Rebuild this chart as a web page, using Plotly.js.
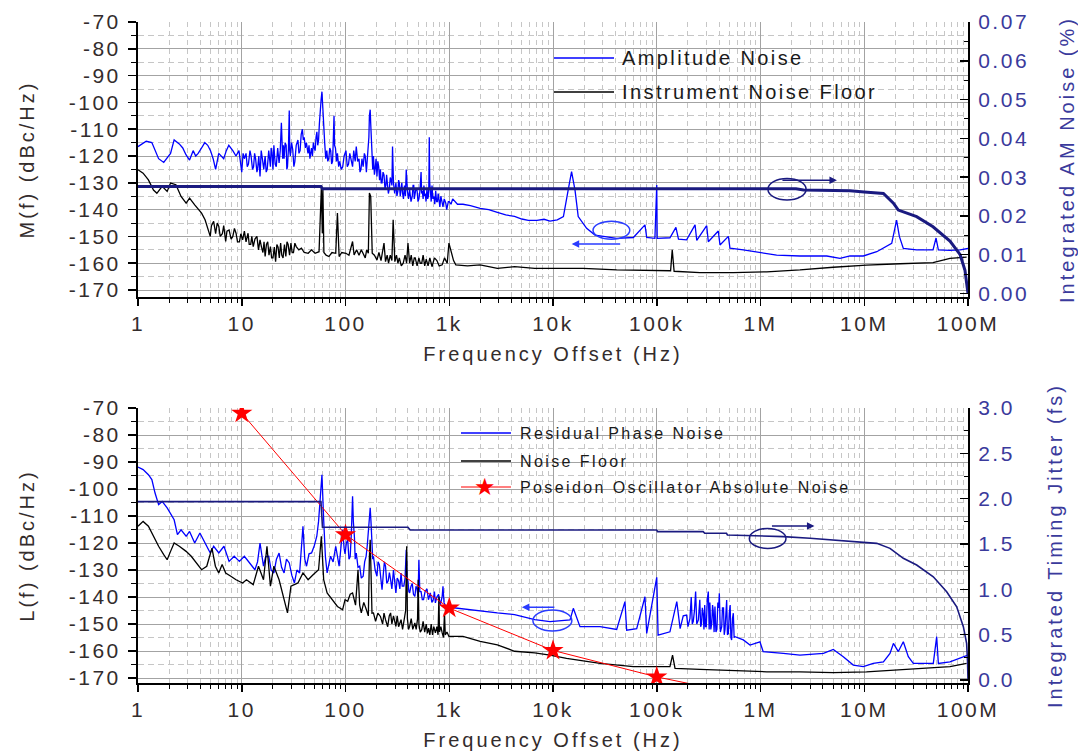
<!DOCTYPE html>
<html>
<head>
<meta charset="utf-8">
<script src="https://cdn.plot.ly/plotly-3.0.1.min.js"></script>
<style>
body{margin:0;background:#fff;}
svg text{letter-spacing:3px;}
g[class$="tick"] text{letter-spacing:2.5px;}
svg text.annotation-text{letter-spacing:2.4px;}
</style>
</head>
<body>
<div id="chart" style="width:1078px;height:755px;"></div>
<script>
// ---------------- data : [frequency offset Hz, value] ----------------
const xTickVals = [1, 10, 100, 1e3, 1e4, 1e5, 1e6, 1e7, 1e8];
const xTickText = ['1', '10', '100', '1k', '10k', '100k', '1M', '10M', '100M'];
const dbTickVals = [-70, -80, -90, -100, -110, -120, -130, -140, -150, -160, -170];
const dbTickText = ['-70', '-80', '-90', '-100', '-110', '-120', '-130', '-140', '-150', '-160', '-170'];

// Top: amplitude noise M(f) (dBc/Hz)
const amNoise = [
[1,-116.5],[1.1,-115.5],[1.2,-114.5],[1.36,-115],[1.5,-119],[1.58,-121],[1.77,-122.4],[1.9,-121],[2.06,-119],[2.23,-114],
[2.5,-115.5],[2.7,-117],[2.9,-119.5],[3.14,-121.5],[3.4,-118],[3.6,-120],[3.8,-119],[4.1,-117],[4.4,-115],[4.7,-116],
[5.0,-118],[5.3,-121],[5.6,-125],[6.0,-119],[6.4,-120],[6.7,-121],[7.1,-118],[7.5,-116],[8.2,-118],[8.8,-120],[9.4,-118],
[10,-126],[10.3,-119],[10.6,-121],[11,-119],[11.3,-124],[11.6,-123],[12,-118],[12.3,-120],[12.7,-125],[13,-124],[13.3,-119],
[13.6,-121],[14,-126],[14.2,-125],[14.6,-120],[15,-127.6],[15.4,-118],[15.8,-121],[16.3,-125],[16.8,-120],[17.2,-126],
[17.6,-125],[18.2,-118],[18.9,-124],[19.2,-117],[19.6,-119],[20,-125],[20.4,-116],[21,-123],[21.5,-124],[22.2,-117],
[22.9,-122.6],[23.5,-118],[24.1,-107.6],[24.5,-120],[24.8,-121],[25.2,-116],[25.6,-121],[26.2,-115],[26.8,-116],[27.2,-125],
[27.6,-124],[28.2,-117],[28.7,-103],[29,-118],[29.4,-120],[30.2,-115],[31,-117.6],[31.8,-124],[32.5,-122],[33.5,-116],
[34.8,-114],[35.6,-119],[36.5,-118],[37.4,-112],[38.4,-110],[39.2,-114],[40,-113],[41,-117],[42,-115],[43.5,-119],[44.5,-116],
[45.4,-121],[46.2,-118],[47,-117],[48,-120],[49,-115],[50,-117],[51,-118],[52,-113],[53,-111],[54,-116],[55,-114],[56,-108],
[57,-102.7],[58.2,-99],[59.3,-96],[60,-100],[60.5,-104],[61.5,-112],[63,-115],[64.5,-121],[66,-118],[67.5,-122],[69,-121],
[70.5,-117],[72,-118],[73.5,-123],[75,-122],[76,-116],[77.5,-105],[78.5,-116],[80,-117],[82,-122],[83.6,-119],[86,-124],
[88,-122],[91,-125],[94,-124],[97,-120],[101,-118],[104,-124],[107,-123],[110,-119],[114,-121.6],[117,-124],[120,-118],
[124,-122],[127,-116.5],[131,-122],[135,-121],[138,-126],[141,-125],[144,-121],[148,-124],[152,-119],[155,-120],[159,-126],
[163,-120],[165,-118],[168,-113],[170,-105],[173,-102.7],[175,-108],[176,-110],[178,-120],[180,-118],[183,-125],[186,-120],
[190,-127],[193,-125],[197,-121],[201,-127.6],[205,-122],[209,-124],[213,-129],[217,-125],[221,-130],[225,-130],[230,-126],
[235,-127],[240,-132],[245,-131],[249,-127],[253,-130],[259,-134],[265,-132],[270,-128],[275,-129],[280,-131],[284,-116.5],
[287,-128],[290,-130],[298,-134],[306,-130],[313,-135],[320,-133],[325,-129],[330,-130],[337,-135],[343,-132.6],[349,-130],
[355,-134],[362,-136],[370,-131],[378,-135],[385,-125],[390,-131],[395,-133],[405,-136],[415,-132.6],[428,-137],[440,-135],
[448,-131],[455,-131],[460,-136],[466,-135],[478,-132],[490,-133],[500,-137],[510,-136],[522,-133],[535,-126],[542,-134],
[550,-133],[560,-136],[570,-131],[578,-135],[586,-134],[598,-137],[610,-132],[620,-136],[630,-135],[636,-131],[642,-113],
[648,-130],[660,-133],[670,-137],[682,-131],[695,-136],[710,-135],[725,-138],[740,-133],[755,-137],[770,-137],[782,-134],
[795,-136],[812,-139],[830,-135],[850,-138],[870,-139],[895,-136],[926,-137.6],[945,-140],[960,-139],[980,-137],[1000,-137],
[1040,-138],[1079,-136],[1200,-138],[1356,-138],[1600,-138.5],[1986,-139.5],[2400,-140],[2909,-141],[3500,-142],[4260,-142.5],
[5000,-143.5],[5780,-144],[7000,-144],[8200,-143.6],[9350,-144.3],[11000,-143.8],[12600,-142.6],[14000,-132.7],[15100,-125.8],
[16300,-132.7],[17500,-142.6],[21100,-147],[25400,-149.5],[30600,-150],[41100,-150.7],[59500,-150.4],[77000,-145.7],
[80000,-150.4],[96000,-150.7],[100000,-130.8],[101000,-150.7],[134000,-150.5],[153000,-146.6],[162000,-151],[194000,-151.3],
[234000,-145.7],[243000,-151.5],[303000,-146],[314000,-152],[392000,-148],[407000,-153.2],[490000,-150],[508000,-154.4],
[683000,-155],[988000,-156],[1430000,-157],[2400000,-157.3],[4350000,-157.3],[5840000,-158.2],[7300000,-157.3],[9800000,-157.3],
[13200000,-155.7],[18400000,-152.6],[20500000,-143.9],[21800000,-150],[23800000,-154.5],[32000000,-155],[46000000,-155],
[49200000,-150.6],[51800000,-155],[67000000,-155.2],[84000000,-155],[100000000,-154.5]];

// Top: instrument noise floor (dBc/Hz)
const amFloor = [
[1,-125.1],[1.12,-126.4],[1.26,-128.9],[1.41,-132.7],[1.52,-133.9],[1.71,-131.3],[1.91,-133.2],[2.06,-130.1],[2.32,-130.7],
[2.6,-135.1],[2.91,-137.6],[3.14,-135.7],[3.52,-138.2],[4.1,-141.3],[4.43,-143.8],[4.97,-150],[5.1,-146],[5.36,-144.4],
[5.6,-149],[5.8,-145],[6.01,-146.3],[6.2,-150],[6.5,-149],[6.7,-146],[7.0,-151.9],[7.2,-148],[7.55,-147.6],[7.9,-151],
[8.2,-150],[8.5,-147],[8.81,-148.8],[9.1,-152],[9.5,-152],[9.8,-149],[10.2,-151.3],[10.6,-148],[11,-152],[11.5,-148.8],
[11.8,-153],[12.2,-153],[12.5,-150],[12.9,-153.8],[13.4,-151],[14,-150],[14.5,-155],[15,-151.3],[15.5,-154],[16,-156],
[16.4,-152],[16.8,-157.5],[17.3,-153],[17.8,-152],[18.3,-157],[18.9,-153.8],[19.4,-158],[20,-158],[20.6,-154],[21.2,-159.4],
[21.8,-153],[22.4,-154],[23,-158],[23.7,-152.5],[24.3,-157],[25,-158],[25.8,-153],[26.6,-157.5],[27.3,-152],[28,-153],
[28.9,-157],[29.8,-152.5],[30.6,-156],[31.5,-156],[32.5,-152.5],[33.5,-153.8],[35.5,-155],[37.6,-154.4],[40,-156],
[43.7,-156.3],[47,-155],[50.9,-156.3],[55.6,-155.7],[57.1,-138.8],[58.5,-132],[59.8,-148.8],[60.5,-132],[61.9,-156],
[65,-157],[69.2,-157.5],[74,-156],[80.5,-156.3],[83.6,-141.3],[86.8,-157.5],[92,-156],[101,-156.3],[108,-157],[117,-151.9],
[121,-156.9],[128,-155],[135,-157],[142,-155],[148,-156.3],[155,-158],[160,-155],[166,-156.3],[170,-133.8],[175,-135.1],
[181,-156.3],[190,-157],[201,-158.8],[210,-156],[220,-159],[228,-156],[235,-152.5],[243,-159.4],[252,-157],[260,-160],
[270,-157],[280,-159],[288,-143.8],[299,-159.4],[310,-157],[320,-160],[330,-158],[345,-161],[360,-160],[375,-157],[388,-160],
[400,-152.5],[415,-160],[430,-157],[445,-161],[460,-158],[470,-158],[490,-161],[510,-158],[525,-160],[543,-160],[560,-157],
[580,-161],[600,-158.5],[625,-161],[650,-158],[682,-161.3],[720,-158],[760,-159],[800,-161],[855,-160.6],[900,-158],
[956,-160],[993,-152.5],[1055,-156],[1100,-159],[1157,-160.6],[1500,-161],[1986,-160.6],[2909,-161.9],[4260,-161.3],
[6670,-161.9],[9350,-161.9],[19600,-161.9],[41100,-162.5],[86000,-162.7],[136000,-162.8],[141000,-155],[147000,-163],
[261000,-163.5],[547000,-163.5],[1150000,-163.2],[2400000,-162.5],[5030000,-161.5],[10500000,-160.7],[22100000,-160.2],
[46000000,-159.8],[67000000,-158.2],[97000000,-157.7]];

// Top: integrated AM noise (%)
const amIntegrated = [
[1,0.0276],[58,0.0276],[60,0.0270],[2200000,0.0270],[2600000,0.0267],[7300000,0.0265],[10000000,0.0262],[15300000,0.0258],
[19100000,0.0233],[21300000,0.0215],[32000000,0.0198],[46000000,0.0172],[67000000,0.0135],[84000000,0.0100],[93500000,0.0060],
[98600000,0.0009],[100000000,0.0]];

// Bottom: residual phase noise L(f) (dBc/Hz)
const phaseNoise = [
[1,-91.9],[1.12,-92.8],[1.26,-94.7],[1.36,-96.5],[1.46,-101.5],[1.58,-105.8],[1.71,-104.6],[1.91,-107],[2.23,-111.4],[2.4,-116.9],
[2.6,-115.1],[2.91,-117.5],[3.14,-115.7],[3.52,-120],[3.95,-116.3],[4.43,-120],[4.97,-123.7],[5.36,-121.2],[6.01,-123.7],
[6.74,-121.2],[7.55,-126.8],[8.46,-124.9],[9.49,-126.8],[10.6,-124.9],[11.9,-127.4],[13.4,-129.9],[14.2,-127],[15,-120],
[16.2,-128.6],[17,-125],[18.2,-124.9],[19.2,-130],[20.4,-131.1],[21.6,-126],[22.9,-123.7],[24.2,-129],[25.6,-131.1],[27,-126],
[28.7,-127.4],[30.4,-132],[32.2,-134.8],[34,-130],[36.1,-131.1],[38.9,-113.8],[40.5,-126],[42.1,-128.6],[44.5,-124],
[47.1,-123.7],[50,-121],[52.9,-117.5],[55,-112],[57.1,-102.7],[59.3,-94.7],[61.6,-111.4],[64,-125],[66.5,-131.1],
[71.7,-124.9],[76,-127],[80.5,-121.2],[86.8,-128.6],[93.8,-115.1],[97,-122],[99,-124],[102,-120],[105,-118.8],[108,-126],
[111,-125],[114,-116],[117,-102.7],[119,-112],[122,-118],[124,-126],[127,-123.7],[132,-129],[137,-128.6],[142,-133],
[148,-132.3],[153,-127],[158,-125],[162,-121],[166,-115.1],[170,-110],[173,-107],[176,-112],[180,-118],[183,-126],
[186,-124.9],[193,-130],[201,-132.3],[206,-127],[212,-128],[218,-134],[225,-137.3],[232,-131],[237,-127],[243,-128.6],
[250,-135],[258,-134],[265,-131],[272,-133.6],[280,-137],[290,-130],[298,-136],[306,-138.5],[315,-133],[325,-134],[334,-137],
[343,-131.1],[352,-136],[365,-136],[375,-133],[385,-122.5],[392,-133],[400,-134],[408,-138],[415,-138.5],[428,-136],
[440,-135],[452,-139],[466,-139.8],[478,-136],[490,-137],[500,-140],[510,-126.2],[520,-138],[535,-138],[550,-141],[565,-141],
[585,-138],[610,-137],[630,-141],[657,-138.5],[680,-142],[700,-141],[720,-138],[735,-142.2],[760,-140],[790,-139],[820,-143],
[855,-139.8],[870,-136],[890,-142],[926,-143.5],[960,-144],[1000,-143.8],[1157,-144.1],[1696,-144.7],[2909,-145.9],
[4260,-146.5],[6670,-148.4],[9350,-149.1],[14600,-148.5],[15700,-144.2],[18200,-151],[28400,-151],[41100,-152],[49400,-141.7],
[51300,-152.3],[64100,-151.7],[77000,-139.9],[80000,-153.5],[100000,-132.7],[103000,-154.1],[134000,-152.9],[156000,-141.7],
[168000,-151.7],[180000,-147],[194000,-146.7],[200000,-151],[209000,-147.9],[215000,-140],[220000,-150],[225000,-149],
[231000,-145],[237000,-138],[243000,-150],[252000,-148.5],[256000,-143],[260000,-141],[265000,-151],[270000,-150],
[275000,-144],[281000,-146.7],[285000,-152],[290000,-143],[295000,-151],[300000,-151],[307000,-141],[314000,-138],
[320000,-152],[325000,-142],[332000,-152],[339000,-149.7],[345000,-143],[350000,-145],[357000,-153],[364000,-143.5],
[372000,-153],[380000,-152],[388000,-142],[395000,-144],[401000,-138.6],[410000,-153],[423000,-151],[430000,-144],
[440000,-144],[447000,-154],[455000,-152],[462000,-145],[472000,-141.1],[480000,-154],[490000,-153.5],[500000,-146],
[510000,-143],[518000,-155],[527000,-155.9],[537000,-148],[547000,-146],[557000,-155],[568000,-154.7],[683000,-155.9],
[792000,-157.8],[988000,-156.6],[1060000,-160.2],[1660000,-160.9],[2400000,-161.5],[4040000,-160.9],[5030000,-159.4],
[6280000,-162.1],[7840000,-165.2],[9800000,-165.8],[12200000,-164.6],[15300000,-164],[17700000,-160.9],[19100000,-157.2],
[21300000,-160.2],[23800000,-156.6],[26600000,-162.1],[29700000,-164.6],[46300000,-164.6],[49900000,-154.7],[51800000,-164.6],
[67000000,-164],[90000000,-162.1],[100000000,-161.5]];

// Bottom: noise floor (dBc/Hz)
const phaseFloor = [
[1,-113.8],[1.12,-112],[1.26,-113.8],[1.41,-117.5],[1.58,-121.2],[1.77,-124.3],[1.91,-126.2],[2.06,-123.1],[2.23,-120],
[2.5,-121.2],[2.91,-123.1],[3.26,-124.9],[3.66,-127.4],[4.1,-129.9],[4.6,-128.6],[5.16,-121.9],[5.57,-128.6],[6.0,-131.1],
[6.47,-128],[7.0,-131.1],[7.85,-132.3],[8.81,-133.6],[10.2,-134.8],[11.1,-133.6],[12.9,-135.4],[14.5,-128.6],[16.2,-133.6],
[17.5,-121.2],[18.9,-136],[20.4,-128.6],[22.9,-133.6],[24.6,-138.5],[27.6,-145.9],[29.8,-136],[34.8,-134.8],[38.9,-131.1],
[43.6,-133.6],[49,-131.7],[55,-129.9],[58.5,-117.5],[61.6,-133.6],[66.5,-138.5],[74.6,-141],[83.6,-143.5],[93.8,-144.7],
[99,-141],[105,-141.6],[111,-139],[117,-138.5],[125,-143],[132,-129.9],[137,-143],[142,-145.9],[150,-142],[159,-144.7],
[166,-147],[170,-125],[173,-118.8],[176,-130],[180,-146],[186,-145.9],[195,-149],[205,-146],[217,-147.2],[228,-150],
[235,-146],[243,-148.4],[255,-151],[264,-147],[272,-145.9],[280,-150],[290,-147],[306,-150.9],[315,-147],[325,-151],
[343,-148.4],[355,-152],[370,-148],[380,-145],[389,-121.2],[395,-148],[405,-152],[415,-150.9],[430,-148],[445,-152],
[466,-149.6],[480,-152],[495,-148],[502,-133.6],[510,-150],[525,-153],[543,-152.1],[560,-149],[580,-153],[600,-150],
[615,-153.5],[632,-151.5],[650,-154],[670,-150],[690,-154],[710,-151],[735,-153.3],[760,-151],[780,-154],[795,-139.8],
[805,-153],[830,-151],[855,-153.3],[880,-155],[900,-146],[915,-154],[950,-153],[993,-154.6],[1356,-154.6],[1986,-156.4],
[2909,-157.7],[4260,-160.1],[6670,-160.7],[9350,-161.5],[13500,-162.7],[28400,-164.6],[59500,-165.8],[134000,-165.8],
[142000,-161.5],[150000,-166.4],[261000,-166.8],[547000,-167.3],[1150000,-167.7],[2400000,-167.7],[5030000,-168],
[10500000,-167.7],[22100000,-167],[46300000,-166.4],[67000000,-165.8],[97000000,-164.6]];

// Bottom: integrated timing jitter (fs)
const jitterIntegrated = [
[1,1.967],[58,1.967],[60,1.684],[400,1.684],[420,1.654],[100000,1.654],[102000,1.636],[280000,1.636],[290000,1.618],
[470000,1.618],[480000,1.600],[790000,1.595],[1660000,1.581],[3000000,1.563],[5000000,1.544],[9100000,1.515],[13200000,1.507],
[17700000,1.452],[23800000,1.342],[32000000,1.268],[46300000,1.139],[62300000,0.974],[77800000,0.808],[90200000,0.588],
[97000000,0.405],[99000000,0.2],[100000000,0.0]];

// Bottom: Poseidon oscillator absolute noise (dBc/Hz)
const oscillator = [[10,-71.9],[100,-116.9],[1000,-144.1],[10000,-159.8],[100000,-169.6],[1000000,-177.5]];

// ---------------- styling ----------------
const FONT = 'Liberation Sans, Arial, sans-serif';
const NAVY = '#1a1a80';
const RIGHTC = '#3a3a9c';
const TXT = '#332c2c';
const col = (arr, i) => arr.map(p => p[i]);

const minorX = [];
for (let d = 0; d < 8; d++) for (let k = 2; k <= 9; k++) minorX.push(k * Math.pow(10, d));

function xAxis(anchor) {
  return {
    type: 'log', range: [0, 8], anchor: anchor, domain: [0, 1],
    tickmode: 'array', tickvals: xTickVals, ticktext: xTickText,
    ticks: 'outside', ticklen: 7, tickwidth: 1.5, tickcolor: '#000',
    ticklabelstandoff: 0,
    tickfont: {family: FONT, size: 21, color: TXT},
    showline: true, linecolor: '#000', linewidth: 2, mirror: false,
    showgrid: true, gridcolor: '#a3a3a3', gridwidth: 1, zeroline: false,
    minor: {tickmode: 'array', tickvals: minorX, ticks: 'outside', ticklen: 4, tickcolor: '#000', tickwidth: 1,
            showgrid: true, gridcolor: '#c6c6c6', gridwidth: 1, griddash: '5px,4px'},
    title: {text: 'Frequency Offset (Hz)', font: {family: FONT, size: 20, color: TXT}, standoff: 13},
    automargin: false
  };
}
function dbAxis(domain, range, title, anchor) {
  return {
    domain: domain, range: range, anchor: anchor,
    tickmode: 'array', tickvals: dbTickVals, ticktext: dbTickText,
    ticks: 'outside', ticklen: 8, tickwidth: 1.5, tickcolor: '#000',
    ticklabelstandoff: 3,
    tickfont: {family: FONT, size: 21, color: TXT},
    showline: true, linecolor: '#000', linewidth: 2,
    showgrid: true, gridcolor: '#a3a3a3', gridwidth: 1, zeroline: false,
    minor: {tick0: -70, dtick: 5, ticks: 'outside', ticklen: 5, tickcolor: '#000', tickwidth: 1,
            showgrid: true, gridcolor: '#c6c6c6', gridwidth: 1, griddash: '6px,4px'},
    title: {text: title, font: {family: FONT, size: 20, color: TXT}, standoff: 29},
    automargin: false
  };
}
function rightAxis(over, anchor, range, dtick, mdtick, fmt, title) {
  return {
    overlaying: over, anchor: anchor, side: 'right', range: range,
    tick0: 0, dtick: dtick, tickformat: fmt,
    ticks: 'inside', ticklen: 8, tickwidth: 1.5, tickcolor: '#000',
    ticklabelstandoff: 4,
    tickfont: {family: FONT, size: 21, color: RIGHTC},
    showline: true, linecolor: '#000', linewidth: 2,
    showgrid: false, zeroline: false,
    minor: {tick0: 0, dtick: mdtick, ticks: 'inside', ticklen: 4, tickcolor: '#000', tickwidth: 1, showgrid: false},
    title: {text: title, font: {family: FONT, size: 20, color: RIGHTC}, standoff: 34},
    automargin: false
  };
}

const traces = [
  {x: col(amNoise, 0), y: col(amNoise, 1), xaxis: 'x', yaxis: 'y', mode: 'lines', name: 'Amplitude Noise',
   line: {color: '#0000ff', width: 1.3}},
  {x: col(amFloor, 0), y: col(amFloor, 1), xaxis: 'x', yaxis: 'y', mode: 'lines', name: 'Instrument Noise Floor',
   line: {color: '#000000', width: 1.3}},
  {x: col(amIntegrated, 0), y: col(amIntegrated, 1), xaxis: 'x', yaxis: 'y2', mode: 'lines', name: 'Integrated AM Noise',
   line: {color: NAVY, width: 3}},
  {x: col(phaseNoise, 0), y: col(phaseNoise, 1), xaxis: 'x2', yaxis: 'y3', mode: 'lines', name: 'Residual Phase Noise',
   line: {color: '#0000ff', width: 1.3}},
  {x: col(phaseFloor, 0), y: col(phaseFloor, 1), xaxis: 'x2', yaxis: 'y3', mode: 'lines', name: 'Noise Floor',
   line: {color: '#000000', width: 1.3}},
  {x: col(jitterIntegrated, 0), y: col(jitterIntegrated, 1), xaxis: 'x2', yaxis: 'y4', mode: 'lines', name: 'Integrated Timing Jitter',
   line: {color: NAVY, width: 1.6}},
  {x: col(oscillator, 0), y: col(oscillator, 1), xaxis: 'x2', yaxis: 'y3', mode: 'lines+markers', name: 'Poseidon Oscillator Absolute Noise',
   line: {color: '#ff0000', width: 1}, marker: {symbol: 'star', size: 16, color: '#ff0000', line: {width: 0}}}
];

// paper-coordinate helpers for the hand-made legends
const L = 138, W = 830, B = 683, H = 661;
const px = v => (v - L) / W;
const py = v => (B - v) / H;

const legendText = (txt, xPix, yPix, size) => ({
  xref: 'paper', yref: 'paper', x: px(xPix), y: py(yPix), xanchor: 'left', yanchor: 'middle',
  text: txt, showarrow: false, font: {family: FONT, size: size, color: '#1a1a1a'}
});

const annotations = [
  legendText('Amplitude Noise', 620, 58, 20),
  legendText('Instrument Noise Floor', 620, 92, 20),
  legendText('Residual Phase Noise', 518, 433, 16),
  legendText('Noise Floor', 518, 461, 16),
  legendText('Poseidon Oscillator Absolute Noise', 518, 487, 16),
  {xref: 'paper', yref: 'paper', x: px(486), y: py(487), xanchor: 'center', yanchor: 'middle',
   text: '★', showarrow: false, font: {family: 'DejaVu Sans', size: 24, color: '#ff0000'}},
  // axis-pointer arrows
  {xref: 'x', yref: 'y', x: 6.737, y: -129, ax: -56, ay: 0, text: '', showarrow: true,
   arrowhead: 2, arrowsize: 1, arrowwidth: 1.5, arrowcolor: NAVY},
  {xref: 'x', yref: 'y', x: 4.18, y: -152.8, ax: 50, ay: 0, text: '', showarrow: true,
   arrowhead: 2, arrowsize: 1, arrowwidth: 1.5, arrowcolor: '#2a3cff'},
  {xref: 'x2', yref: 'y3', x: 6.52, y: -113.7, ax: -44, ay: 0, text: '', showarrow: true,
   arrowhead: 2, arrowsize: 1, arrowwidth: 1.5, arrowcolor: NAVY},
  {xref: 'x2', yref: 'y3', x: 3.70, y: -143.8, ax: 34, ay: 0, text: '', showarrow: true,
   arrowhead: 2, arrowsize: 1, arrowwidth: 1.5, arrowcolor: '#2a3cff'}
];

const shapes = [
  // white legend backgrounds
  {type: 'rect', xref: 'paper', yref: 'paper', x0: px(516), x1: px(921), y0: py(113), y1: py(38),
   fillcolor: '#ffffff', line: {width: 0}, layer: 'between'},
  {type: 'rect', xref: 'paper', yref: 'paper', x0: px(417), x1: px(895), y0: py(507), y1: py(404),
   fillcolor: '#ffffff', line: {width: 0}, layer: 'between'},
  // legend line samples
  {type: 'line', xref: 'paper', yref: 'paper', x0: px(554), x1: px(614), y0: py(58), y1: py(58), line: {color: '#0000ff', width: 1.5}},
  {type: 'line', xref: 'paper', yref: 'paper', x0: px(554), x1: px(614), y0: py(92), y1: py(92), line: {color: '#000000', width: 1.5}},
  {type: 'line', xref: 'paper', yref: 'paper', x0: px(461), x1: px(511), y0: py(433), y1: py(433), line: {color: '#0000ff', width: 1.5}},
  {type: 'line', xref: 'paper', yref: 'paper', x0: px(461), x1: px(511), y0: py(461), y1: py(461), line: {color: '#000000', width: 1.5}},
  {type: 'line', xref: 'paper', yref: 'paper', x0: px(461), x1: px(511), y0: py(487), y1: py(487), line: {color: '#ff0000', width: 1.2}},
  // ellipses marking which axis a curve belongs to
  {type: 'circle', xref: 'x', yref: 'y', x0: 1.18e6, x1: 2.75e6, y0: -136.4, y1: -128.4, line: {color: NAVY, width: 1.5}},
  {type: 'circle', xref: 'x', yref: 'y', x0: 2.43e4, x1: 5.5e4, y0: -151.1, y1: -144.3, line: {color: '#2a3cff', width: 1.5}},
  {type: 'circle', xref: 'x2', yref: 'y3', x0: 7.8e5, x1: 1.76e6, y0: -122.0, y1: -114.6, line: {color: NAVY, width: 1.5}},
  {type: 'circle', xref: 'x2', yref: 'y3', x0: 6.4e3, x1: 1.52e4, y0: -152.6, y1: -144.8, line: {color: '#2a3cff', width: 1.5}}
];

const layout = {
  width: 1078, height: 755,
  margin: {l: 138, r: 110, t: 22, b: 72, pad: 0},
  paper_bgcolor: '#ffffff', plot_bgcolor: '#ffffff',
  showlegend: false,
  font: {family: FONT, color: TXT},
  xaxis: xAxis('y'),
  xaxis2: xAxis('y3'),
  yaxis: dbAxis([py(297), 1], [-172.6, -70], 'M(f) (dBc/Hz)', 'x'),
  yaxis2: rightAxis('y', 'x', [-0.0009, 0.07], 0.01, 0.005, '.2f', 'Integrated AM Noise (%)'),
  yaxis3: dbAxis([0, py(408)], [-171.85, -70], 'L(f) (dBc/Hz)', 'x2'),
  yaxis4: rightAxis('y3', 'x2', [-0.033, 3.0], 0.5, 0.25, '.1f', 'Integrated Timing Jitter (fs)'),
  annotations: annotations,
  shapes: shapes
};

Plotly.newPlot('chart', traces, layout, {displayModeBar: false, staticPlot: true});
</script>
</body>
</html>
